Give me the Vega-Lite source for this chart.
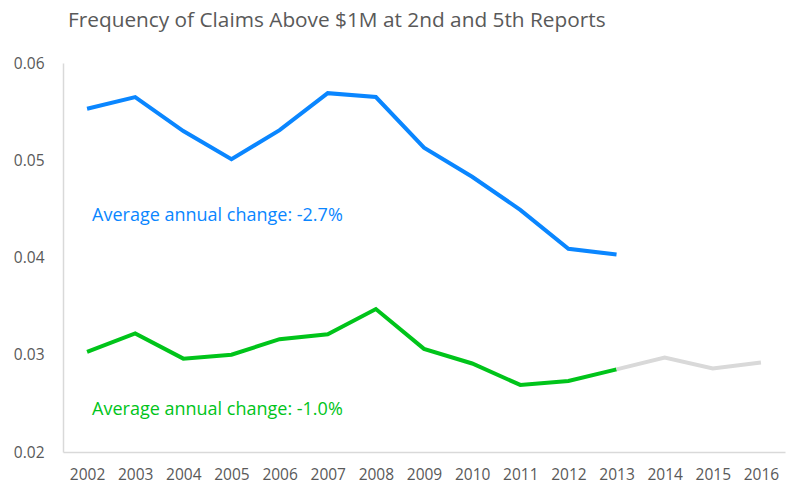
{
  "$schema": "https://vega.github.io/schema/vega-lite/v6.json",
  "width": 722,
  "height": 389,
  "autosize": "none",
  "padding": {"left": 63, "top": 63, "right": 15, "bottom": 41},
  "background": "white",
  "title": {
    "text": "Frequency of Claims Above $1M at 2nd and 5th Reports",
    "anchor": "start",
    "frame": "group",
    "dx": 5,
    "offset": 8,
    "baseline": "alphabetic",
    "font": "Open Sans",
    "fontSize": 20.8,
    "fontWeight": "normal",
    "color": "#595959"
  },
  "config": {
    "view": {"stroke": null},
    "axis": {
      "domainColor": "#d9d9d9",
      "domainWidth": 1.5,
      "ticks": false,
      "grid": false,
      "labelFont": "Open Sans",
      "labelFontSize": 15.5,
      "labelColor": "#595959",
      "title": null
    }
  },
  "layer": [
    {
      "data": {
        "values": [
          {"year": "2002", "series": "5th", "value": 0.0553},
          {"year": "2003", "series": "5th", "value": 0.0565},
          {"year": "2004", "series": "5th", "value": 0.0530},
          {"year": "2005", "series": "5th", "value": 0.0501},
          {"year": "2006", "series": "5th", "value": 0.0531},
          {"year": "2007", "series": "5th", "value": 0.0569},
          {"year": "2008", "series": "5th", "value": 0.0565},
          {"year": "2009", "series": "5th", "value": 0.0513},
          {"year": "2010", "series": "5th", "value": 0.0483},
          {"year": "2011", "series": "5th", "value": 0.0449},
          {"year": "2012", "series": "5th", "value": 0.0409},
          {"year": "2013", "series": "5th", "value": 0.0403},
          {"year": "2002", "series": "2nd", "value": 0.0303},
          {"year": "2003", "series": "2nd", "value": 0.0322},
          {"year": "2004", "series": "2nd", "value": 0.0296},
          {"year": "2005", "series": "2nd", "value": 0.0300},
          {"year": "2006", "series": "2nd", "value": 0.0316},
          {"year": "2007", "series": "2nd", "value": 0.0321},
          {"year": "2008", "series": "2nd", "value": 0.0347},
          {"year": "2009", "series": "2nd", "value": 0.0306},
          {"year": "2010", "series": "2nd", "value": 0.0291},
          {"year": "2011", "series": "2nd", "value": 0.0269},
          {"year": "2012", "series": "2nd", "value": 0.0273},
          {"year": "2013", "series": "2nd", "value": 0.0285},
          {"year": "2013", "series": "2nd later", "value": 0.0285},
          {"year": "2014", "series": "2nd later", "value": 0.0297},
          {"year": "2015", "series": "2nd later", "value": 0.0286},
          {"year": "2016", "series": "2nd later", "value": 0.0292}
        ]
      },
      "mark": {"type": "line", "strokeWidth": 4, "strokeJoin": "miter"},
      "encoding": {
        "x": {
          "field": "year",
          "type": "ordinal",
          "scale": {"type": "point", "padding": 0.5},
          "axis": {"labelAngle": 0, "labelPadding": 15}
        },
        "y": {
          "field": "value",
          "type": "quantitative",
          "scale": {"domain": [0.02, 0.06], "nice": false, "zero": false},
          "axis": {"values": [0.02, 0.03, 0.04, 0.05, 0.06], "format": ".2f", "labelPadding": 19}
        },
        "color": {
          "field": "series",
          "type": "nominal",
          "scale": {"domain": ["5th", "2nd", "2nd later"], "range": ["#0a86ff", "#00c41a", "#d9d9d9"]},
          "legend": null
        },
        "order": {"field": "year", "type": "ordinal"}
      }
    },
    {
      "data": {"values": [{"note": "Average annual change: -2.7%"}]},
      "mark": {"type": "text", "align": "left", "baseline": "middle", "dx": 5, "font": "Open Sans", "fontSize": 18, "fontWeight": "normal", "fill": "#0a86ff"},
      "encoding": {
        "x": {"datum": "2002", "type": "ordinal"},
        "y": {"datum": 0.0443, "type": "quantitative"},
        "text": {"field": "note"}
      }
    },
    {
      "data": {"values": [{"note": "Average annual change: -1.0%"}]},
      "mark": {"type": "text", "align": "left", "baseline": "middle", "dx": 5, "font": "Open Sans", "fontSize": 18, "fontWeight": "normal", "fill": "#00c41a"},
      "encoding": {
        "x": {"datum": "2002", "type": "ordinal"},
        "y": {"datum": 0.0243, "type": "quantitative"},
        "text": {"field": "note"}
      }
    }
  ]
}
